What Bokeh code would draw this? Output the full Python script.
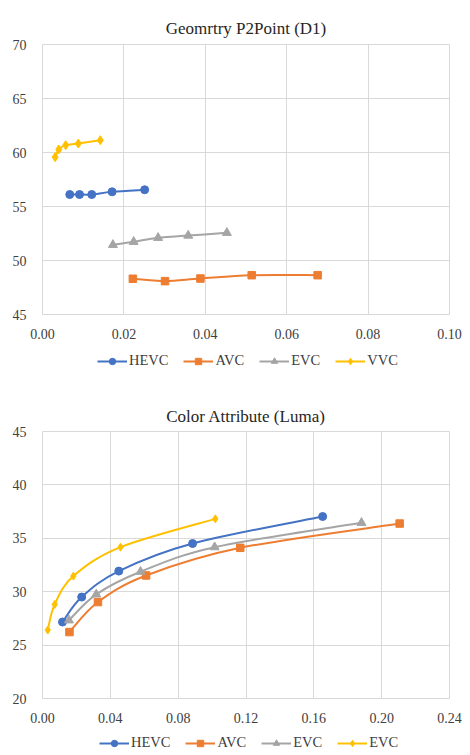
from bokeh.plotting import figure
from bokeh.models import ColumnDataSource, Legend, LegendItem, NumeralTickFormatter, FixedTicker
from bokeh.layouts import column
from bokeh.embed import file_html
from bokeh.resources import INLINE

# ---- Chart 1: Geometry P2Point (D1) ----
g_title = "Geomrtry P2Point (D1)"
g_labels = ["HEVC", "AVC", "EVC", "VVC"]
g_hevc_x = [0.0067, 0.0091, 0.0121, 0.0171, 0.0251]
g_hevc_y = [56.11, 56.11, 56.11, 56.36, 56.55]
g_avc_x = [0.0222, 0.0301, 0.0388, 0.0514, 0.0676]
g_avc_y = [48.31, 48.09, 48.33, 48.64, 48.64]
g_evc_x = [0.0173, 0.0224, 0.0284, 0.0358, 0.0453]
g_evc_y = [51.45, 51.73, 52.10, 52.31, 52.56]
g_vvc_x = [0.0031, 0.0040, 0.0057, 0.0088, 0.0142]
g_vvc_y = [59.57, 60.28, 60.68, 60.83, 61.14]
g_xticks = [0.0, 0.02, 0.04, 0.06, 0.08, 0.10]
g_yticks = [45, 50, 55, 60, 65, 70]

# ---- Chart 2: Color Attribute (Luma) ----
c_title = "Color Attribute (Luma)"
c_labels = ["HEVC", "AVC", "EVC", "EVC"]
c_hevc_x = [0.0118, 0.0231, 0.0450, 0.0885, 0.1652]
c_hevc_y = [27.16, 29.50, 31.93, 34.51, 37.04]
c_avc_x = [0.0159, 0.0327, 0.0611, 0.1166, 0.2106]
c_avc_y = [26.22, 29.03, 31.52, 34.11, 36.38]
c_evc_x = [0.0156, 0.0317, 0.0578, 0.1015, 0.1881]
c_evc_y = [27.32, 29.75, 31.87, 34.17, 36.45]
c_vvc_x = [0.0031, 0.0072, 0.0182, 0.0460, 0.1019]
c_vvc_y = [26.41, 28.81, 31.46, 34.17, 36.82]
c_xticks = [0.0, 0.04, 0.08, 0.12, 0.16, 0.20, 0.24]
c_yticks = [20, 25, 30, 35, 40, 45]

COLORS = ["#4472C4", "#ED7D31", "#A5A5A5", "#FFC000"]
MARKERS = ["circle", "square", "triangle", "diamond"]
SIZES = [8, 7.5, 9, 10]
FONT = "Liberation Serif"
TXT = "#404040"
GRID = "#D9D9D9"
W = 462


def smooth_segments(xs, ys):
    n = len(xs)
    seg = dict(x0=[], y0=[], x1=[], y1=[], cx0=[], cy0=[], cx1=[], cy1=[])
    for i in range(n - 1):
        a = i - 1 if i > 0 else i
        d = i + 2 if i + 2 < n else i + 1
        seg["x0"].append(xs[i]); seg["y0"].append(ys[i])
        seg["x1"].append(xs[i + 1]); seg["y1"].append(ys[i + 1])
        seg["cx0"].append(xs[i] + (xs[i + 1] - xs[a]) / 6.0)
        seg["cy0"].append(ys[i] + (ys[i + 1] - ys[a]) / 6.0)
        seg["cx1"].append(xs[i + 1] - (xs[d] - xs[i]) / 6.0)
        seg["cy1"].append(ys[i + 1] - (ys[d] - ys[i]) / 6.0)
    return seg


def make_chart(title, series, xr, yr, xticks, yticks, height,
               top_border, bottom_border, title_valign, diamond_size):
    p = figure(width=W, height=height, x_range=xr, y_range=yr,
               output_backend="svg", toolbar_location=None,
               min_border_left=42, min_border_right=13,
               min_border_top=top_border, min_border_bottom=bottom_border,
               title=title)
    p.title.align = "center"
    p.title.vertical_align = title_valign
    p.title.text_font = FONT
    p.title.text_font_size = "17px"
    p.title.text_font_style = "normal"
    p.title.text_color = "#262626"
    p.outline_line_color = GRID
    for ax in (p.xaxis[0], p.yaxis[0]):
        ax.axis_line_color = None
        ax.major_tick_line_color = None
        ax.minor_tick_line_color = None
        ax.major_label_text_font = FONT
        ax.major_label_text_font_size = "14px"
        ax.major_label_text_color = TXT
        ax.major_label_standoff = 8
    p.yaxis[0].major_label_standoff = 10
    p.xaxis[0].ticker = FixedTicker(ticks=xticks)
    p.yaxis[0].ticker = FixedTicker(ticks=yticks)
    p.xaxis[0].formatter = NumeralTickFormatter(format="0.00")
    p.yaxis[0].formatter = NumeralTickFormatter(format="0")
    p.xgrid.grid_line_color = GRID
    p.ygrid.grid_line_color = GRID
    p.xgrid.ticker = FixedTicker(ticks=xticks)
    p.ygrid.ticker = FixedTicker(ticks=yticks)

    for k, (xs, ys) in enumerate(series):
        seg = smooth_segments(xs, ys)
        p.bezier(x0="x0", y0="y0", x1="x1", y1="y1", cx0="cx0", cy0="cy0", cx1="cx1", cy1="cy1",
                 source=ColumnDataSource(seg), line_color=COLORS[k], line_width=2)
        size = SIZES[k] if k != 3 else diamond_size
        p.scatter(x=xs, y=ys, marker=MARKERS[k], size=size,
                  fill_color=COLORS[k], line_color=COLORS[k])
    return p


def make_legend(series, labels, height, loc, diamond_size):
    lp = figure(width=W, height=height, output_backend="svg", toolbar_location=None,
                x_axis_location=None, y_axis_location=None, min_border=0,
                x_range=(0, 1), y_range=(0, 1))
    lp.outline_line_color = None
    lp.grid.visible = False
    items = []
    for k, (xs, ys) in enumerate(series):
        ln = lp.line(x=xs, y=ys, line_color=COLORS[k], line_width=2, visible=False)
        size = SIZES[k] if k != 3 else diamond_size
        sc = lp.scatter(x=xs, y=ys, marker=MARKERS[k], size=size,
                        fill_color=COLORS[k], line_color=COLORS[k], visible=False)
        items.append(LegendItem(label=labels[k], renderers=[ln, sc]))
    leg = Legend(items=items, orientation="horizontal", location=loc,
                 border_line_color=None, background_fill_alpha=0, inactive_fill_alpha=0,
                 label_text_font=FONT, label_text_font_size="14.5px", label_text_color=TXT,
                 glyph_width=30, glyph_height=16, label_height=16, label_standoff=2,
                 spacing=15, padding=0, margin=0)
    lp.add_layout(leg)
    return lp


g_series = [(g_hevc_x, g_hevc_y), (g_avc_x, g_avc_y), (g_evc_x, g_evc_y), (g_vvc_x, g_vvc_y)]
c_series = [(c_hevc_x, c_hevc_y), (c_avc_x, c_avc_y), (c_evc_x, c_evc_y), (c_vvc_x, c_vvc_y)]

p1 = make_chart(g_title, g_series, (0, 0.10), (45, 70), g_xticks, g_yticks, 347, 44, 33, "top", 9)
l1 = make_legend(g_series, g_labels, 25, (55, 3), 9)
p2 = make_chart(c_title, c_series, (0, 0.24), (20, 45), c_xticks, c_yticks, 358, 59, 32, "middle", 8)
l2 = make_legend(c_series, c_labels, 22, (57, 1), 8)

layout = column(p1, l1, p2, l2, spacing=0)
open("out.html", "w").write(file_html(layout, INLINE))
